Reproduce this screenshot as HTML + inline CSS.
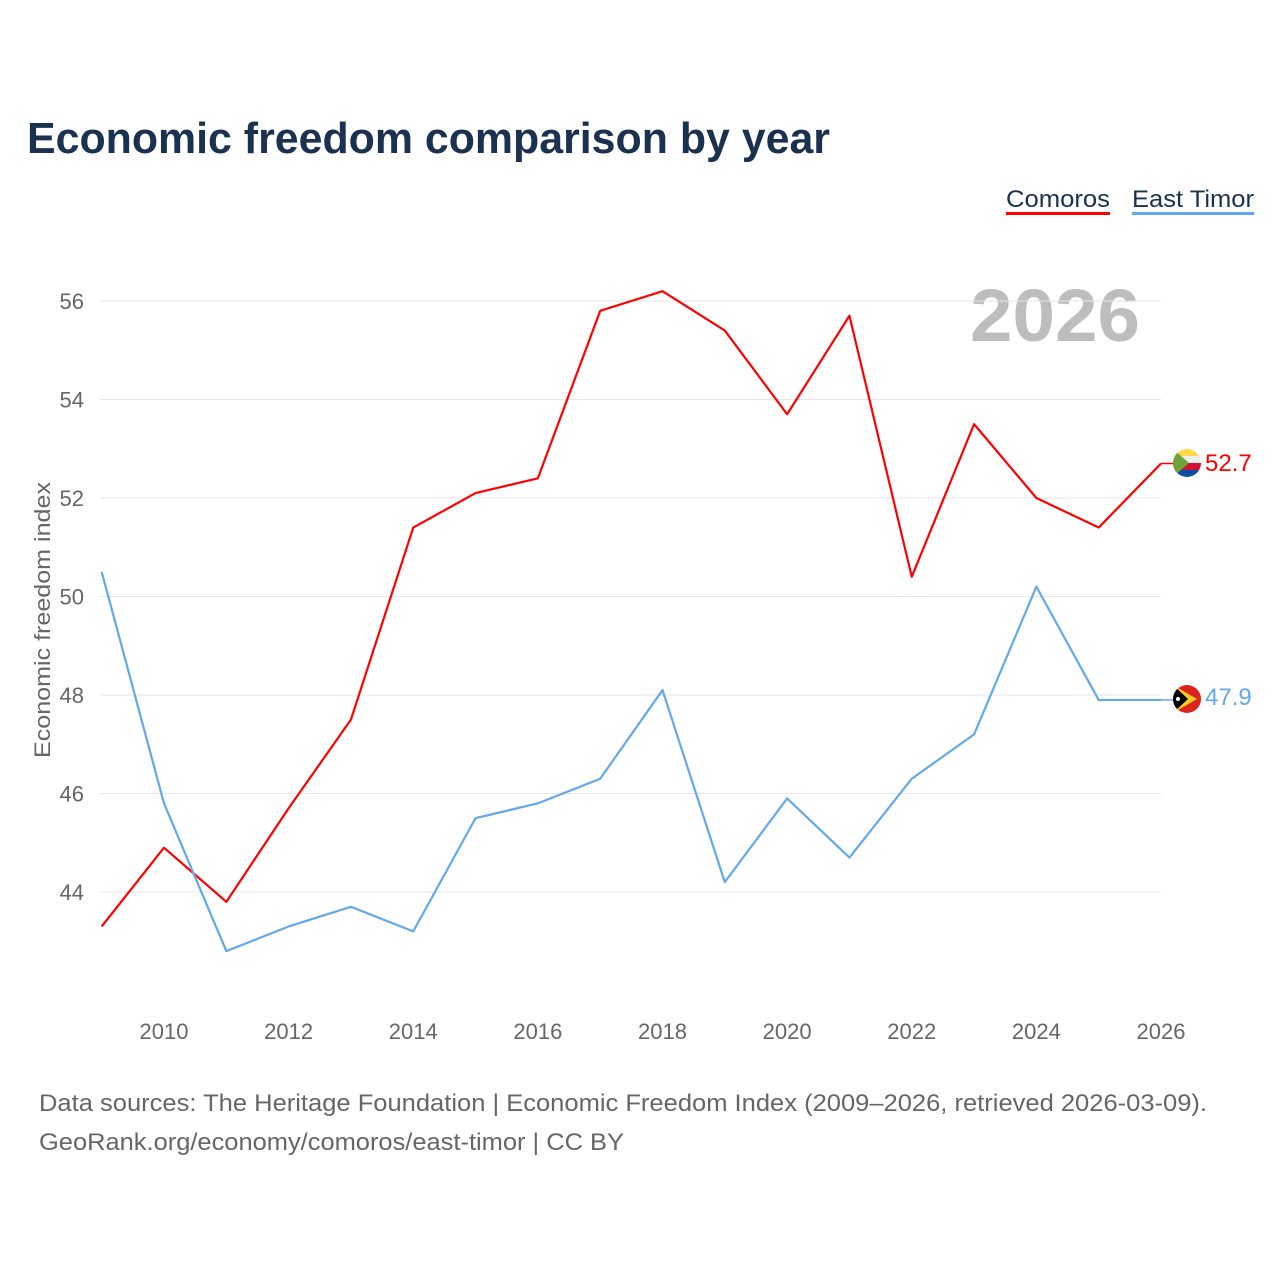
<!DOCTYPE html>
<html><head><meta charset="utf-8"><style>
body{margin:0;background:#fff;font-family:"Liberation Sans",sans-serif}
</style></head><body>
<svg width="1280" height="1280" xmlns="http://www.w3.org/2000/svg" id="chart">
<rect width="1280" height="1280" fill="#fff"/>
<text x="27" y="153" font-size="44" font-weight="bold" fill="#1b3150" textLength="803" lengthAdjust="spacingAndGlyphs">Economic freedom comparison by year</text>
<g><text x="1006" y="207" font-size="24" fill="#1b3150" textLength="104" lengthAdjust="spacingAndGlyphs">Comoros</text><rect x="1006" y="212" width="104" height="3" fill="#ff0000"/></g>
<g><text x="1132" y="207" font-size="24" fill="#1b3150" textLength="122" lengthAdjust="spacingAndGlyphs">East Timor</text><rect x="1132" y="212" width="122" height="3" fill="#63a8ec"/></g>
<text x="1140" y="341" font-size="74" font-weight="bold" fill="#bdbdbd" text-anchor="end" textLength="170" lengthAdjust="spacingAndGlyphs">2026</text>
<text transform="translate(50,620) rotate(-90)" font-size="22" fill="#666" text-anchor="middle" textLength="276" lengthAdjust="spacingAndGlyphs">Economic freedom index</text>
<g id="grid"></g><g id="lines"></g>
<g>
<clipPath id="c1"><circle cx="1187" cy="463" r="14"/></clipPath>
<g clip-path="url(#c1)"><rect x="1173" y="449" width="28" height="7" fill="#ffd94a"/><rect x="1173" y="456" width="28" height="7" fill="#eee"/><rect x="1173" y="463" width="28" height="7" fill="#d21034"/><rect x="1173" y="470" width="28" height="7" fill="#0b4ea2"/><polygon points="1173,449 1189,463 1173,477" fill="#6ea43a"/></g></g>
<text x="1205" y="471" font-size="24" fill="#ff0000">52.7</text>
<g>
<clipPath id="c2"><circle cx="1187" cy="699" r="14"/></clipPath>
<g clip-path="url(#c2)"><rect x="1173" y="685" width="28" height="28" fill="#dc241f"/><polygon points="1173,685 1197,699 1173,713" fill="#ffc726"/><polygon points="1173,685 1188,699 1173,713" fill="#000"/><circle cx="1178" cy="699" r="2" fill="#fff"/></g></g>
<text x="1205" y="705" font-size="24" fill="#63a8ec">47.9</text>
<text x="39" y="1111" font-size="24" fill="#666" textLength="1168" lengthAdjust="spacingAndGlyphs">Data sources: The Heritage Foundation | Economic Freedom Index (2009–2026, retrieved 2026-03-09).</text>
<text x="39" y="1150" font-size="24" fill="#666" textLength="585" lengthAdjust="spacingAndGlyphs">GeoRank.org/economy/comoros/east-timor | CC BY</text>
</svg>
<script>
const years=[2009,2010,2011,2012,2013,2014,2015,2016,2017,2018,2019,2020,2021,2022,2023,2024,2025,2026];
const comoros=[43.3,44.9,43.8,45.7,47.5,51.4,52.1,52.4,55.8,56.2,55.4,53.7,55.7,50.4,53.5,52.0,51.4,52.7];
const eastTimor=[50.5,45.8,42.8,43.3,43.7,43.2,45.5,45.8,46.3,48.1,44.2,45.9,44.7,46.3,47.2,50.2,47.9,47.9];
const yTicks=[44,46,48,50,52,54,56];
const xTicks=[2010,2012,2014,2016,2018,2020,2022,2024,2026];
const NS="http://www.w3.org/2000/svg";
const X=v=>164+(v-2010)*(1161-164)/16;
const Y=v=>892-(v-44)*(892-301)/12;
const grid=document.getElementById('grid'),lines=document.getElementById('lines');
function mk(t,a,p){const e=document.createElementNS(NS,t);for(const k in a)e.setAttribute(k,a[k]);p.appendChild(e);return e;}
yTicks.forEach(v=>{
 const l=mk('line',{x1:100,x2:1161,y1:Y(v),y2:Y(v),stroke:'#e6e6e6','stroke-width':1},grid);
 
 
 const t=mk('text',{x:84,y:Y(v)+8,'font-size':22,fill:'#666','text-anchor':'end'},grid);t.textContent=v;
 
 
});
xTicks.forEach(v=>{
 const t=mk('text',{x:X(v),y:1039,'font-size':22,fill:'#666','text-anchor':'middle'},grid);t.textContent=v;
 
 
});
function line(vals,col,name){
 const p=mk('polyline',{points:vals.map((v,i)=>X(years[i])+','+Y(v)).join(' '),fill:'none',stroke:col,'stroke-width':2.2,'stroke-linejoin':'round'},lines);
 
 
 const last=vals[vals.length-1];
 mk('line',{x1:X(2026),x2:1173,y1:Y(last),y2:Y(last),stroke:col,'stroke-width':1.5},lines);
}
line(comoros,'#ff0000','line-comoros');
line(eastTimor,'#63a8ec','line-east-timor');
</script>
</body></html>
